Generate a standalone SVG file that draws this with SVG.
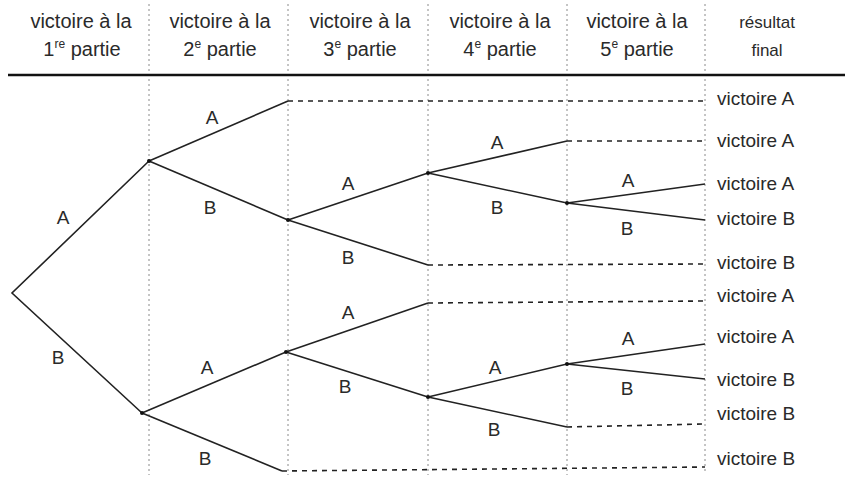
<svg xmlns="http://www.w3.org/2000/svg" width="850" height="477" viewBox="0 0 850 477">
<style>
text{font-family:"Liberation Sans",Arial,sans-serif;fill:#2a2a2a}
.h{font-size:20px;text-anchor:middle}
.l{font-size:19px;text-anchor:middle}
.r{font-size:19px}
.sup{font-size:12px}
.div{stroke:#8a8a8a;stroke-width:1;stroke-dasharray:2 3;fill:none}
.br{stroke:#222;stroke-width:1.6;fill:none}
.dl{stroke:#222;stroke-width:1.6;stroke-dasharray:5 5;fill:none}
</style>
<rect width="850" height="477" fill="#fff"/>
<g id="grid">
<line class="div" x1="149" y1="4" x2="149" y2="475"/>
<line class="div" x1="288" y1="4" x2="288" y2="475"/>
<line class="div" x1="428" y1="4" x2="428" y2="475"/>
<line class="div" x1="567" y1="4" x2="567" y2="475"/>
<line class="div" x1="705" y1="4" x2="705" y2="472"/>
<line x1="8" y1="75" x2="845" y2="75" stroke="#111" stroke-width="2.6"/>
</g>
<g id="header">
<text class="h" x="81" y="28">victoire à la</text>
<text class="h" x="82" y="56">1<tspan class="sup" dy="-8">re</tspan><tspan dy="8"> partie</tspan></text>
<text class="h" x="220" y="28">victoire à la</text>
<text class="h" x="220" y="56">2<tspan class="sup" dy="-8">e</tspan><tspan dy="8"> partie</tspan></text>
<text class="h" x="360" y="28">victoire à la</text>
<text class="h" x="360" y="56">3<tspan class="sup" dy="-8">e</tspan><tspan dy="8"> partie</tspan></text>
<text class="h" x="500" y="28">victoire à la</text>
<text class="h" x="500" y="56">4<tspan class="sup" dy="-8">e</tspan><tspan dy="8"> partie</tspan></text>
<text class="h" x="637" y="28">victoire à la</text>
<text class="h" x="637" y="56">5<tspan class="sup" dy="-8">e</tspan><tspan dy="8"> partie</tspan></text>
<text class="h" x="767" y="28" style="font-size:17px">résultat</text>
<text class="h" x="767" y="56" style="font-size:17px">final</text>
</g>
<g id="connectors">
<polyline class="br" points="149,161 12,293 142,413"/>
<line class="br" x1="149" y1="161" x2="288" y2="101"/>
<line class="br" x1="149" y1="161" x2="288" y2="220"/>
<line class="br" x1="288" y1="220" x2="428" y2="173"/>
<line class="br" x1="288" y1="220" x2="428" y2="265"/>
<line class="br" x1="428" y1="173" x2="567" y2="141"/>
<line class="br" x1="428" y1="173" x2="567" y2="203"/>
<line class="br" x1="567" y1="203" x2="705" y2="184"/>
<line class="br" x1="567" y1="203" x2="705" y2="220"/>
<line class="br" x1="142" y1="413" x2="286" y2="352"/>
<line class="br" x1="142" y1="413" x2="282" y2="471"/>
<line class="br" x1="286" y1="352" x2="428" y2="303"/>
<line class="br" x1="286" y1="352" x2="428" y2="397"/>
<line class="br" x1="428" y1="397" x2="567" y2="364"/>
<line class="br" x1="428" y1="397" x2="567" y2="427"/>
<line class="br" x1="567" y1="364" x2="705" y2="344"/>
<line class="br" x1="567" y1="364" x2="705" y2="379"/>
<line class="dl" x1="288" y1="101" x2="705" y2="101"/>
<line class="dl" x1="567" y1="141" x2="705" y2="141"/>
<line class="dl" x1="428" y1="265" x2="705" y2="264"/>
<line class="dl" x1="428" y1="303" x2="705" y2="301"/>
<line class="dl" x1="567" y1="427" x2="705" y2="424"/>
<line class="dl" x1="282" y1="471" x2="705" y2="467"/>
</g>
<g id="nodes" fill="#111">
<circle cx="149" cy="161" r="2"/>
<circle cx="142" cy="413" r="2"/>
<circle cx="288" cy="220" r="2"/>
<circle cx="286" cy="352" r="2"/>
<circle cx="428" cy="173" r="2"/>
<circle cx="428" cy="397" r="2"/>
<circle cx="567" cy="203" r="2"/>
<circle cx="567" cy="364" r="2"/>
</g>
<g id="branch-labels">
<text class="l" x="63" y="224">A</text>
<text class="l" x="58" y="364">B</text>
<text class="l" x="212" y="124">A</text>
<text class="l" x="210" y="214">B</text>
<text class="l" x="348" y="190">A</text>
<text class="l" x="348" y="264">B</text>
<text class="l" x="497" y="149">A</text>
<text class="l" x="497" y="214">B</text>
<text class="l" x="628" y="187">A</text>
<text class="l" x="627" y="235">B</text>
<text class="l" x="207" y="374">A</text>
<text class="l" x="205" y="465">B</text>
<text class="l" x="348" y="319">A</text>
<text class="l" x="345" y="393">B</text>
<text class="l" x="495" y="374">A</text>
<text class="l" x="494" y="436">B</text>
<text class="l" x="628" y="345">A</text>
<text class="l" x="627" y="395">B</text>
</g>
<g id="results">
<text class="r" x="717" y="105">victoire A</text>
<text class="r" x="717" y="147">victoire A</text>
<text class="r" x="717" y="190">victoire A</text>
<text class="r" x="717" y="225">victoire B</text>
<text class="r" x="717" y="269">victoire B</text>
<text class="r" x="717" y="302">victoire A</text>
<text class="r" x="717" y="343">victoire A</text>
<text class="r" x="717" y="386">victoire B</text>
<text class="r" x="717" y="420">victoire B</text>
<text class="r" x="717" y="465">victoire B</text>
</g>
</svg>
